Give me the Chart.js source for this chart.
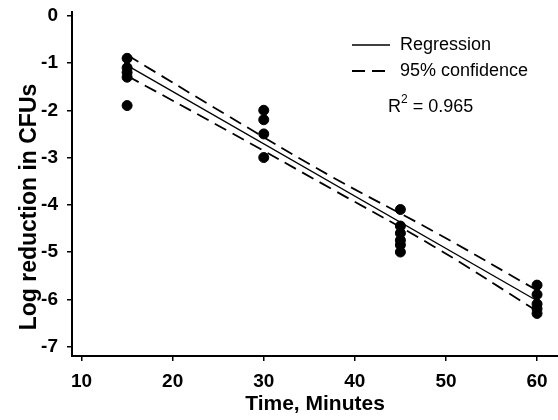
<!DOCTYPE html>
<html>
<head>
<meta charset="utf-8">
<script src="https://cdn.jsdelivr.net/npm/chart.js@4"></script>
<style>
  body { margin: 0; background: #ffffff; }
  canvas { display: block; }
</style>
</head>
<body>
<canvas id="chart" width="558" height="420"></canvas>
<script>
// Observed points (minutes vs log reduction)
const times = [15, 15, 15, 15, 15, 30, 30, 30, 30, 45, 45, 45, 45, 45, 45, 60, 60, 60, 60, 60];
const logReduction = [-0.9, -1.1, -1.2, -1.3, -1.9, -2.0, -2.2, -2.5, -3.0, -4.1, -4.45, -4.6, -4.75, -4.85, -5.0, -5.7, -5.9, -6.1, -6.2, -6.3];

// Regression line
const regressionX = [15, 60];
const regressionY = [-1.05, -6.03];

// 95% confidence bands
const bandX = [15, 26, 37.5, 49, 60];
const upperBand = [-0.83, -2.11, -3.41, -4.60, -5.81];
const lowerBand = [-1.27, -2.43, -3.67, -4.92, -6.25];

// Axis ticks
const xTicks = [10, 20, 30, 40, 50, 60];
const yTicks = [0, -1, -2, -3, -4, -5, -6, -7];

const FONT = '"Liberation Sans", Arial, Helvetica, sans-serif';

function toPoints(xs, ys) {
    return xs.map((x, i) => ({ x: x, y: ys[i] }));
}

// Legend, R² and y title drawn on top
const annotations = {
    id: 'annotations',
    afterDraw(chart) {
        const ctx = chart.ctx;
        ctx.save();
        ctx.fillStyle = '#000';
        ctx.strokeStyle = '#000';
        ctx.textBaseline = 'middle';
        ctx.textAlign = 'left';
        ctx.font = '18px ' + FONT;

        // Regression sample
        ctx.lineWidth = 1.3;
        ctx.beginPath();
        ctx.moveTo(352, 45);
        ctx.lineTo(390, 45);
        ctx.stroke();
        ctx.fillText('Regression', 400, 45);

        // Confidence sample
        ctx.lineWidth = 2;
        ctx.setLineDash([13, 7]);
        ctx.beginPath();
        ctx.moveTo(352, 71);
        ctx.lineTo(386, 71);
        ctx.stroke();
        ctx.setLineDash([]);
        ctx.fillText('95% confidence', 400, 71);

        // R squared
        let x = 388;
        ctx.fillText('R', x, 107);
        x += ctx.measureText('R').width;
        ctx.font = '12px ' + FONT;
        ctx.fillText('2', x, 100);
        x += ctx.measureText('2').width;
        ctx.font = '18px ' + FONT;
        ctx.fillText(' = 0.965', x, 107);

        // Y axis title
        ctx.font = 'bold 23px ' + FONT;
        ctx.textAlign = 'center';
        ctx.translate(30, 207);
        ctx.rotate(-Math.PI / 2);
        ctx.fillText('Log reduction in CFUs', 0, 0);
        ctx.restore();
    }
};

const dashedLine = {
    type: 'line',
    showLine: true,
    borderColor: '#000',
    borderWidth: 1.8,
    borderDash: [13, 7],
    pointRadius: 0,
    fill: false,
    tension: 0.4
};

new Chart(document.getElementById('chart'), {
    type: 'scatter',
    data: {
        datasets: [
            {
                label: 'Data',
                data: toPoints(times, logReduction),
                backgroundColor: '#000',
                borderColor: '#000',
                pointRadius: 5,
                pointHoverRadius: 5
            },
            {
                type: 'line',
                label: 'Regression',
                data: toPoints(regressionX, regressionY),
                showLine: true,
                borderColor: '#000',
                borderWidth: 1.3,
                pointRadius: 0,
                fill: false
            },
            Object.assign({ label: 'Upper 95%', data: toPoints(bandX, upperBand) }, dashedLine),
            Object.assign({ label: 'Lower 95%', data: toPoints(bandX, lowerBand) }, dashedLine)
        ]
    },
    options: {
        responsive: false,
        animation: false,
        devicePixelRatio: 1,
        layout: { autoPadding: false, padding: { top: 12, left: 0, right: 0, bottom: 0 } },
        plugins: {
            legend: { display: false },
            tooltip: { enabled: false }
        },
        scales: {
            x: {
                type: 'linear',
                min: 8.95,
                max: 62.3,
                afterBuildTicks: scale => { scale.ticks = xTicks.map(v => ({ value: v })); },
                afterFit: scale => {
                    scale.height = 64;
                    scale.paddingLeft = 0;
                    scale.paddingRight = 0;
                },
                border: { display: true, color: '#000', width: 2 },
                grid: { drawOnChartArea: false, drawTicks: true, tickLength: 5, color: '#000', lineWidth: 1.5 },
                ticks: {
                    color: '#000',
                    padding: 9,
                    maxRotation: 0,
                    font: { family: FONT, size: 19, weight: 'bold' }
                },
                title: {
                    display: true,
                    text: 'Time, Minutes',
                    color: '#000',
                    padding: { top: 0, bottom: 3 },
                    font: { family: FONT, size: 21, weight: 'bold' }
                }
            },
            y: {
                type: 'linear',
                min: -7.2,
                max: 0.08,
                afterBuildTicks: scale => { scale.ticks = yTicks.map(v => ({ value: v })); },
                afterFit: scale => {
                    scale.width = 72;
                    scale.paddingTop = 0;
                    scale.paddingBottom = 0;
                },
                border: { display: true, color: '#000', width: 2 },
                grid: { drawOnChartArea: false, drawTicks: true, tickLength: 5, color: '#000', lineWidth: 1.5 },
                ticks: {
                    color: '#000',
                    padding: 9,
                    font: { family: FONT, size: 19, weight: 'bold' }
                }
            }
        }
    },
    plugins: [annotations]
});
</script>
</body>
</html>
